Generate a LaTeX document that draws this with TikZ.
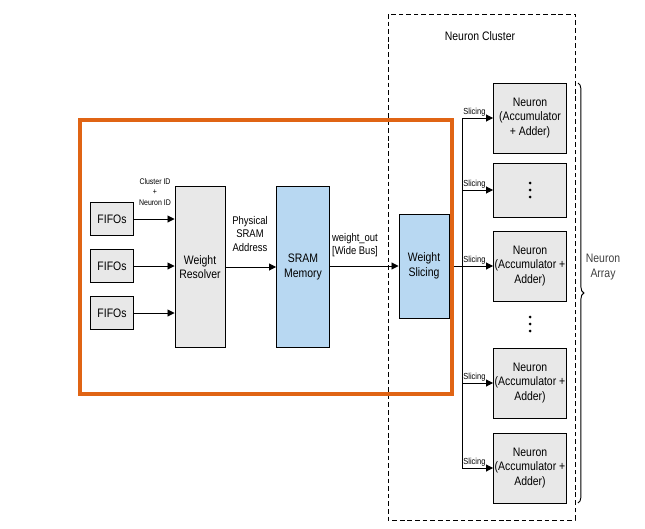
\documentclass[tikz,border=0pt]{standalone}
\usepackage{fontspec}
\setmainfont{Liberation Sans}[FakeStretch=0.85]
\usetikzlibrary{arrows.meta,decorations.pathreplacing,calc}
\definecolor{memblue}{RGB}{184,216,242}
\definecolor{hilite}{RGB}{224,100,20}

\begin{document}
\begin{tikzpicture}[x=0.03cm,y=-0.03cm,
    blk/.style={draw,thick,fill=gray!18,align=center,font=\fontsize{10.5}{12.5}\selectfont,inner sep=1pt},
    bblk/.style={blk,fill=memblue},
    arr/.style={-{Triangle[length=6pt,width=6pt]},thick},
    lbl/.style={font=\fontsize{7.5}{9}\selectfont,align=center,inner sep=1pt}]

  \useasboundingbox (0,0) rectangle (645,528);

  % neuron cluster
  \draw[dash pattern=on 4pt off 2.5pt,thick] (388,14) rectangle (575,520);
  \node[font=\fontsize{10.5}{12}\selectfont] (cluster) at (480,36) {Neuron Cluster};

  % fifos and resolver
  \node[blk,minimum width=43*0.03cm,minimum height=33*0.03cm] (fifo1) at (112,219) {FIFOs};
  \node[blk,minimum width=43*0.03cm,minimum height=33*0.03cm] (fifo2) at (112,266) {FIFOs};
  \node[blk,minimum width=43*0.03cm,minimum height=33*0.03cm] (fifo3) at (112,313) {FIFOs};
  \node[blk,minimum width=50*0.03cm,minimum height=161*0.03cm] (resolver) at (200,267) {Weight\\Resolver};
  \node[bblk,minimum width=53*0.03cm,minimum height=161*0.03cm] (sram) at (303,267) {SRAM\\Memory};
  \node[bblk,minimum width=50*0.03cm,minimum height=104*0.03cm] (slicer) at (424,266) {Weight\\Slicing};

  \draw[arr] (fifo1) -- (fifo1 -| resolver.west);
  \draw[arr] (fifo2) -- (fifo2 -| resolver.west);
  \draw[arr] (fifo3) -- (fifo3 -| resolver.west);
  \node[lbl,font=\fontsize{7}{9}\selectfont] (ids) at (155,192) {Cluster ID\\+\\Neuron ID};
  \draw[arr] (resolver.east |- sram) -- (sram);
  \node[lbl,font=\fontsize{9.5}{11.5}\selectfont] (addr) at (250,234) {Physical\\SRAM\\Address};
  \draw[arr] (sram.east |- slicer) -- (slicer);
  \node[lbl,font=\fontsize{9.5}{11.5}\selectfont] (bus) at (355,245) {weight\_out\\{[Wide Bus]}};

  % neurons
  \coordinate (bustop) at (462,119);
  \coordinate (busbot) at (462,468);
  \node[blk,minimum width=73*0.03cm,minimum height=70*0.03cm] (n1) at (530,118) {Neuron\\(Accumulator\\+ Adder)};
  \node[blk,minimum width=73*0.03cm,minimum height=54*0.03cm] (n2) at (530,190) {};
  \node[blk,minimum width=73*0.03cm,minimum height=70*0.03cm] (n3) at (530,266) {Neuron\\(Accumulator +\\Adder)};
  \node[blk,minimum width=73*0.03cm,minimum height=70*0.03cm] (n4) at (530,383) {Neuron\\(Accumulator +\\Adder)};
  \node[blk,minimum width=73*0.03cm,minimum height=70*0.03cm] (n5) at (530,468) {Neuron\\(Accumulator +\\Adder)};
  \foreach \y in {-7,0,7}{
    \fill ($(n2)+(0,\y)$) circle (1.5);
    \fill (530,324+\y) circle (1.5);
  }

  \draw[thick] (slicer) -- (slicer -| bustop);
  \draw[thick] (bustop) -- (busbot);
  \foreach \n in {n1,n2,n3,n4,n5}{
    \draw[arr] (\n -| bustop) -- node[lbl,above,pos=0.4] {Slicing} (\n.west);
  }

  \draw[decorate,decoration={brace,amplitude=5pt},thick] (578,83) -- (578,503);
  \node[font=\fontsize{10.5}{12.5}\selectfont,align=center,color=black!75] (array) at (603,267) {Neuron\\Array};

  % highlight
  \draw[line width=4pt,color=hilite] (80,120) rectangle (452,394);
\end{tikzpicture}
\end{document}
